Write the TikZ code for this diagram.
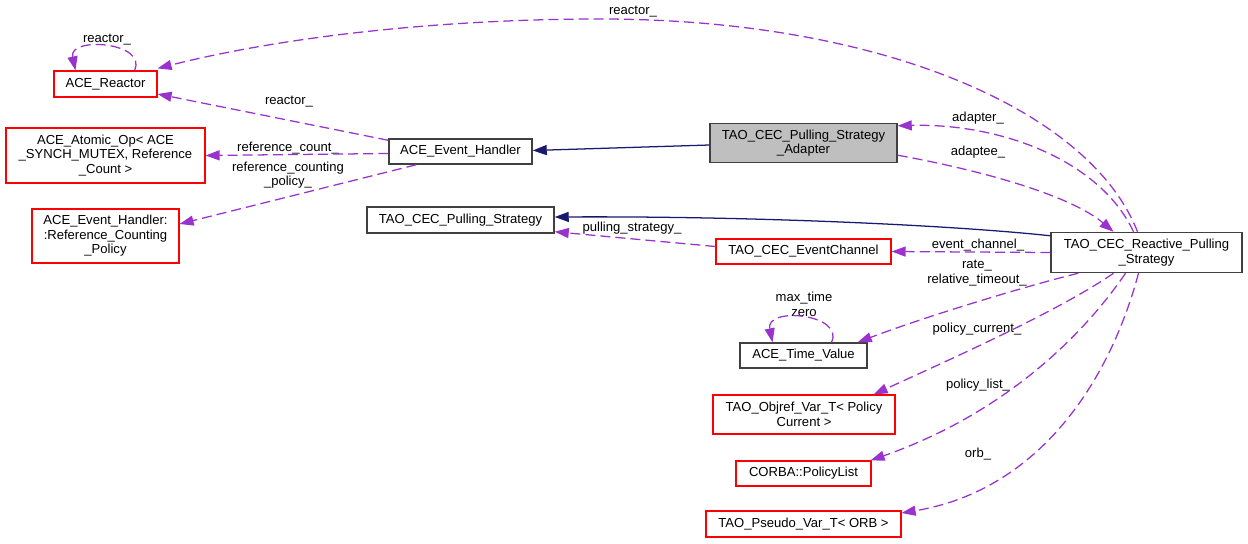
\documentclass[tikz,border=0pt]{standalone}
\usepackage{fontspec}
\setmainfont{Liberation Sans}
\usepackage{xcolor}
\usepackage{tikz}
\usetikzlibrary{calc}
\usetikzlibrary{arrows.meta}
\definecolor{edgepurple}{RGB}{154,50,205}
\definecolor{edgenavy}{RGB}{25,25,112}
\definecolor{fillgrey}{RGB}{191,191,191}
\definecolor{framegrey}{RGB}{64,64,64}

\begin{document}
\begin{tikzpicture}[x=0.75pt, y=-0.75pt,
  every node/.style={font=\fontsize{9.8}{10.9}\selectfont, align=center, inner sep=0pt},
  intbox/.style={draw=framegrey, line width=1.1pt, rectangle},
  extbox/.style={draw=red, line width=0.9pt, rectangle},
  curbox/.style={intbox, fill=fillgrey},
  boxsize/.style 2 args={minimum width=#1*0.75pt, minimum height=#2*0.75pt},
  assoc/.style={draw=edgepurple, line width=0.95pt, dash pattern=on 7.5pt off 3.8pt, -{Triangle[length=10.5pt,width=7.5pt]}},
  inherit/.style={draw=edgenavy, line width=0.95pt, -{Triangle[length=10.5pt,width=7.5pt]}}]
  \useasboundingbox (0,0) rectangle (1248,543);

  \node[extbox, boxsize={103}{26}] (reactor) at (105.5,84) {ACE\_Reactor};
  \node[extbox, boxsize={199}{55}] (atomic) at (105.5,155.5) {ACE\_Atomic\_Op< ACE\\\_SYNCH\_MUTEX, Reference\\\_Count >};
  \node[extbox, boxsize={147}{54}] (refpol) at (105.5,236) {ACE\_Event\_Handler:\\:Reference\_Counting\\\_Policy};
  \node[intbox, boxsize={143}{25}] (evh) at (460.5,151.5) {ACE\_Event\_Handler};
  \node[curbox, boxsize={187}{39}] (adapter) at (803.5,143) {TAO\_CEC\_Pulling\_Strategy\\\_Adapter};
  \node[intbox, boxsize={187}{26}] (pstrat) at (460.5,220) {TAO\_CEC\_Pulling\_Strategy};
  \node[extbox, boxsize={175}{25}] (evchan) at (803.5,251.5) {TAO\_CEC\_EventChannel};
  \node[intbox, boxsize={191}{40}] (rps) at (1146.5,252.5) {TAO\_CEC\_Reactive\_Pulling\\\_Strategy};
  \node[intbox, boxsize={127}{25}] (tval) at (803.5,355.5) {ACE\_Time\_Value};
  \node[extbox, boxsize={182}{39}] (objref) at (804,414.5) {TAO\_Objref\_Var\_T< Policy\\Current >};
  \node[extbox, boxsize={135}{25}] (plist) at (803.5,473.5) {CORBA::PolicyList};
  \node[extbox, boxsize={195}{26}] (pseudo) at (803.5,524) {TAO\_Pseudo\_Var\_T< ORB >};

  \node (lreactself) at (107,40) {reactor\_};
  \node (lreactevh) at (289,102) {reactor\_};
  \node (lrefcount) at (288,148) {reference\_count\_};
  \node (lrefpol) at (288,175) {reference\_counting\\\_policy\_};
  \node (lreactrps) at (633,12) {reactor\_};
  \node (ladapter) at (978,118) {adapter\_};
  \node (ladaptee) at (978,152) {adaptee\_};
  \node (lpull) at (632,228) {pulling\_strategy\_};
  \node (levchan) at (978,245) {event\_channel\_};
  \node (lrate) at (977,273) {rate\_\\relative\_timeout\_};
  \node (ltime) at (804,304.5) {max\_time\\zero};
  \node (lpcur) at (977,329) {policy\_current\_};
  \node (lplist) at (978,385) {policy\_list\_};
  \node (lorb) at (978,454) {orb\_};

  \draw[assoc] ($(reactor.north)+(29,0)$) .. controls (148,42) and (68,36) .. ($(reactor.north)+(-30,0)$);
  \draw[assoc] ($(evh.north west)+(0,2)$) -- ($(reactor.east)+(0,10)$);
  \draw[assoc] ($(evh.west)+(0,2)$) -- (atomic.east);
  \draw[assoc] ($(evh.south west)+(28,0)$) -- ($(refpol.east)+(0,-12)$);
  \draw[inherit] ($(adapter.west)+(0,2)$) -- ($(evh.east)+(0,-1)$);
  \draw[inherit] ($(rps.north west)+(0,4)$) .. controls (950,225) and (750,216) .. ($(pstrat.east)+(0,-3)$);
  \draw[assoc] ($(evchan.west)+(0,-5)$) -- ($(pstrat.south east)+(0,-2)$);
  \draw[assoc] (rps.west) -- (evchan.east);
  \draw[assoc] ($(rps.south west)+(28,0)$) .. controls (1030,285) and (930,315) .. ($(tval.north east)+(-10,0)$);
  \draw[assoc] ($(tval.north)+(28,0)$) .. controls (845,314) and (765,306) .. ($(tval.north)+(-31,0)$);
  \draw[assoc] ($(rps.south)+(-33,0)$) .. controls (1060,310) and (960,355) .. ($(objref.north east)+(-22,0)$);
  \draw[assoc] ($(rps.south)+(-21,0)$) .. controls (1080,340) and (1000,415) .. ($(plist.north east)+(-1,0)$);
  \draw[assoc] ($(rps.south)+(-8,0)$) .. controls (1110,380) and (1040,490) .. ($(pseudo.east)+(0,-11)$);
  \draw[assoc] ($(rps.north)+(-13,0)$) .. controls (1100,160) and (1000,123) .. ($(adapter.north east)+(0,3)$);
  \draw[assoc] ($(adapter.south east)+(0,-8)$) .. controls (980,170) and (1070,195) .. ($(rps.north)+(-33,0)$);
  \draw[assoc] ($(rps.north)+(-9,0)$) .. controls (1090,110) and (880,19) .. (600,19) .. controls (450,19) and (290,35) .. ($(reactor.north east)+(0,-2)$);
\end{tikzpicture}
\end{document}
